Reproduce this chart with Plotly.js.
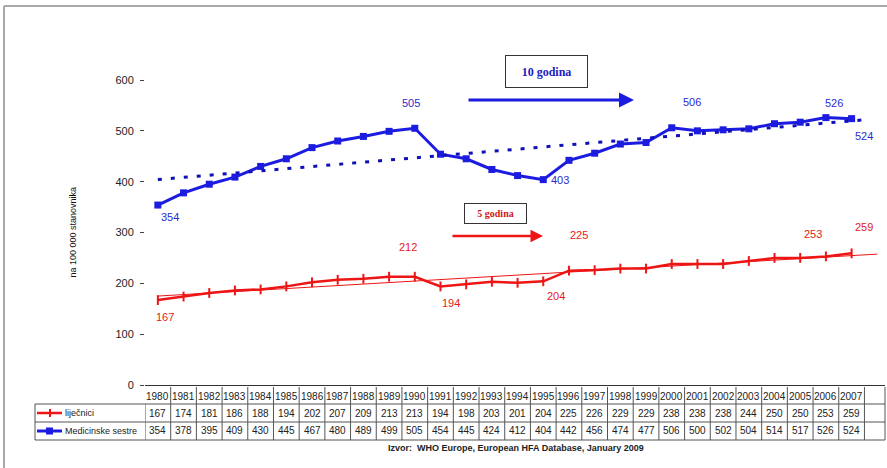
<!DOCTYPE html>
<html>
<head>
<meta charset="utf-8">
<script src="https://cdn.plot.ly/plotly-3.0.1.min.js"></script>
<style>html,body{margin:0;padding:0;background:#fff;}#chart{width:887px;height:468px;}</style>
</head>
<body>
<div id="chart"></div>
<script>
const years = ['1980','1981','1982','1983','1984','1985','1986','1987','1988','1989','1990','1991','1992','1993','1994','1995','1996','1997','1998','1999','2000','2001','2002','2003','2004','2005','2006','2007'];
const doctors = [167,174,181,186,188,194,202,207,209,213,213,194,198,203,201,204,225,226,229,229,238,238,238,244,250,250,253,259];
const nurses = [354,378,395,409,430,445,467,480,489,499,505,454,445,424,412,404,442,456,474,477,506,500,502,504,514,517,526,524];
const seriesNames = ['liječnici','Medicinske sestre'];
const yTitle = 'na 100 000 stanovnika';
const sourceText = 'Izvor:  WHO Europe, European HFA Database, January 2009';
const nurseLabelYears = ['1980','1990','1995','2000','2006','2007'];
const nurseLabelTexts = ['354','505','403','506','526','524'];
const doctorLabelYears = ['1980','1990','1991','1995','1996','2006','2007'];
const doctorLabelTexts = ['167','212','194','204','225','253','259'];
const periodTexts = ['10 godina','5 godina'];

const BLUE = '#1c1ce0', RED = '#ee1515', LBLUE = '#2b2bd0', LRED = '#e41a1a';
const idx = years.map((_, i) => i);

function trend(vals, xEnd) {
  const n = vals.length;
  const mx = idx.reduce((a, b) => a + b, 0) / n;
  const my = vals.reduce((a, b) => a + b, 0) / n;
  let sxy = 0, sxx = 0;
  idx.forEach((x, i) => { sxy += (x - mx) * (vals[i] - my); sxx += (x - mx) * (x - mx); });
  const b = sxy / sxx, a = my - b * mx;
  return { x: [0, xEnd], y: [a, a + b * xEnd] };
}
const tN = trend(nurses, 27.5), tD = trend(doctors, 28);

const traces = [
  { x: idx, y: doctors, mode: 'lines+markers', name: seriesNames[0],
    line: { color: RED, width: 2.5 },
    marker: { symbol: 'line-ns', size: 7, line: { color: RED, width: 2 } } },
  { x: idx, y: nurses, mode: 'lines+markers', name: seriesNames[1],
    line: { color: BLUE, width: 3 },
    marker: { symbol: 'square', size: 7, color: BLUE } },
  { x: tD.x, y: tD.y, mode: 'lines', line: { color: RED, width: 1 }, hoverinfo: 'skip' },
  { x: tN.x, y: tN.y, mode: 'lines', line: { color: '#1010b8', width: 3, dash: '4px,9px' }, hoverinfo: 'skip' }
];

// pixel helpers for the table (plot area: x 145..885, y 80..385)
const L = 145, W = 740, T = 80, H = 305;
const px = p => (p - L) / W;
const py = p => (385 - p) / H;

const annotations = [];
const shapes = [];
const tableFont = { family: 'Liberation Sans Narrow, Arial Narrow, Liberation Sans, Arial, sans-serif', size: 10, color: '#222' };
const legendFont = { family: 'Liberation Sans Narrow, Arial Narrow, Liberation Sans, Arial, sans-serif', size: 9, color: '#222' };

function note(o) { return Object.assign({ showarrow: false, xanchor: 'center', yanchor: 'middle' }, o); }

// table: header years and values
years.forEach((yr, i) => {
  annotations.push(note({ x: i, y: py(396), xref: 'x', yref: 'paper', text: yr, font: tableFont }));
  annotations.push(note({ x: i, y: py(413), xref: 'x', yref: 'paper', text: String(doctors[i]), font: tableFont }));
  annotations.push(note({ x: i, y: py(431), xref: 'x', yref: 'paper', text: String(nurses[i]), font: tableFont }));
});
const lineC = '#555';
for (let i = 0; i <= years.length; i++) {
  const top = i === 0 ? 404 : 387;
  shapes.push({ type: 'line', xref: 'x', yref: 'paper', x0: i - 0.5, x1: i - 0.5, y0: py(top), y1: py(440), line: { color: lineC, width: 1 } });
}
shapes.push({ type: 'line', xref: 'paper', yref: 'paper', x0: 1, x1: 1, y0: py(387), y1: py(440), line: { color: lineC, width: 1 } });
shapes.push({ type: 'line', xref: 'paper', yref: 'paper', x0: px(35), x1: px(35), y0: py(404), y1: py(440), line: { color: lineC, width: 1 } });
[404, 422, 440].forEach(yy => shapes.push({ type: 'line', xref: 'paper', yref: 'paper', x0: px(35), x1: 1, y0: py(yy), y1: py(yy), line: { color: lineC, width: 1 } }));
// legend keys in table
shapes.push({ type: 'line', xref: 'paper', yref: 'paper', x0: px(37), x1: px(62), y0: py(413), y1: py(413), line: { color: RED, width: 2.5 } });
shapes.push({ type: 'line', xref: 'paper', yref: 'paper', x0: px(50), x1: px(50), y0: py(409), y1: py(417), line: { color: RED, width: 2 } });
shapes.push({ type: 'line', xref: 'paper', yref: 'paper', x0: px(37), x1: px(62), y0: py(431), y1: py(431), line: { color: BLUE, width: 3 } });
shapes.push({ type: 'rect', xref: 'paper', yref: 'paper', x0: px(46), x1: px(53), y0: py(427.5), y1: py(434.5), fillcolor: BLUE, line: { width: 0 } });
annotations.push(note({ x: px(63), y: py(413), xref: 'paper', yref: 'paper', xanchor: 'left', text: seriesNames[0], font: legendFont }));
annotations.push(note({ x: px(63), y: py(431), xref: 'paper', yref: 'paper', xanchor: 'left', text: seriesNames[1], font: legendFont }));

// outer frame
shapes.push({ type: 'line', xref: 'paper', yref: 'paper', x0: px(4), x1: px(4), y0: py(6), y1: py(470), line: { color: '#a8a8a8', width: 2 } });
shapes.push({ type: 'line', xref: 'paper', yref: 'paper', x0: px(4), x1: px(890), y0: py(6), y1: py(6), line: { color: '#a8a8a8', width: 2 } });

// value labels
const nurseOff = [[12, -12], [-4, 25], [17, 0], [20, 26], [8, 15], [12, -17]];
nurseLabelYears.forEach((yr, k) => {
  const i = years.indexOf(yr);
  annotations.push(note({ x: i, y: nurses[i], xref: 'x', yref: 'y', text: nurseLabelTexts[k],
    xshift: nurseOff[k][0], yshift: nurseOff[k][1], font: { family: 'Liberation Sans, Arial, sans-serif', size: 11, color: LBLUE } }));
});
const docOff = [[7, -17], [-7, 30], [11, -17], [13, -15], [10, 36], [-13, 22], [12, 26]];
doctorLabelYears.forEach((yr, k) => {
  const i = years.indexOf(yr);
  annotations.push(note({ x: i, y: doctors[i], xref: 'x', yref: 'y', text: doctorLabelTexts[k],
    xshift: docOff[k][0], yshift: docOff[k][1], font: { family: 'Liberation Sans, Arial, sans-serif', size: 11, color: LRED } }));
});

// period boxes and arrows
annotations.push(note({ x: px(546.5), y: py(71.5), xref: 'paper', yref: 'paper', text: '<b>' + periodTexts[0] + '</b>',
  width: 81, height: 31, bordercolor: '#333', borderwidth: 1, borderpad: 0, bgcolor: '#fff',
  font: { family: 'Liberation Serif, Times New Roman, serif', size: 12, color: '#2020c0' } }));
annotations.push({ x: px(634), y: py(100), ax: px(467), ay: py(100), xref: 'paper', yref: 'paper', axref: 'paper', ayref: 'paper',
  text: '', showarrow: true, arrowhead: 2, arrowsize: 1, arrowwidth: 3, arrowcolor: BLUE });
annotations.push(note({ x: px(495.5), y: py(213.5), xref: 'paper', yref: 'paper', text: '<b>' + periodTexts[1] + '</b>',
  width: 61, height: 19, bordercolor: '#333', borderwidth: 1, borderpad: 0, bgcolor: '#fff',
  font: { family: 'Liberation Serif, Times New Roman, serif', size: 10, color: '#d01818' } }));
annotations.push({ x: px(543), y: py(236), ax: px(451), ay: py(236), xref: 'paper', yref: 'paper', axref: 'paper', ayref: 'paper',
  text: '', showarrow: true, arrowhead: 2, arrowsize: 1, arrowwidth: 2.5, arrowcolor: RED });

// axis title and source
annotations.push(note({ x: px(72), y: 0.5, xref: 'paper', yref: 'paper', text: yTitle, textangle: -90,
  font: { family: 'Liberation Sans Narrow, Arial Narrow, Liberation Sans, sans-serif', size: 9, color: '#111' } }));
annotations.push(note({ x: px(516), y: py(448), xref: 'paper', yref: 'paper', text: '<b>' + sourceText + '</b>',
  font: { family: 'Liberation Sans Narrow, Arial Narrow, Liberation Sans, sans-serif', size: 9, color: '#222' } }));

const layout = {
  width: 887, height: 468,
  margin: { l: L, r: 887 - L - W, t: T, b: 468 - T - H, pad: 0 },
  paper_bgcolor: '#fff', plot_bgcolor: '#fff',
  showlegend: false,
  xaxis: { range: [-0.5, 28.3], showgrid: false, zeroline: false, showticklabels: false, ticks: '',
    showline: true, linecolor: '#333', linewidth: 1, fixedrange: true },
  yaxis: { range: [0, 600], dtick: 100, showgrid: false, zeroline: false, showline: false,
    ticks: 'outside', ticklen: 4, tickcolor: '#444', tickwidth: 1, ticklabelstandoff: 4,
    tickfont: { family: 'Liberation Sans, Arial, sans-serif', size: 11, color: '#222' }, fixedrange: true },
  annotations: annotations,
  shapes: shapes
};

Plotly.newPlot('chart', traces, layout, { displayModeBar: false, staticPlot: true });
</script>
</body>
</html>
